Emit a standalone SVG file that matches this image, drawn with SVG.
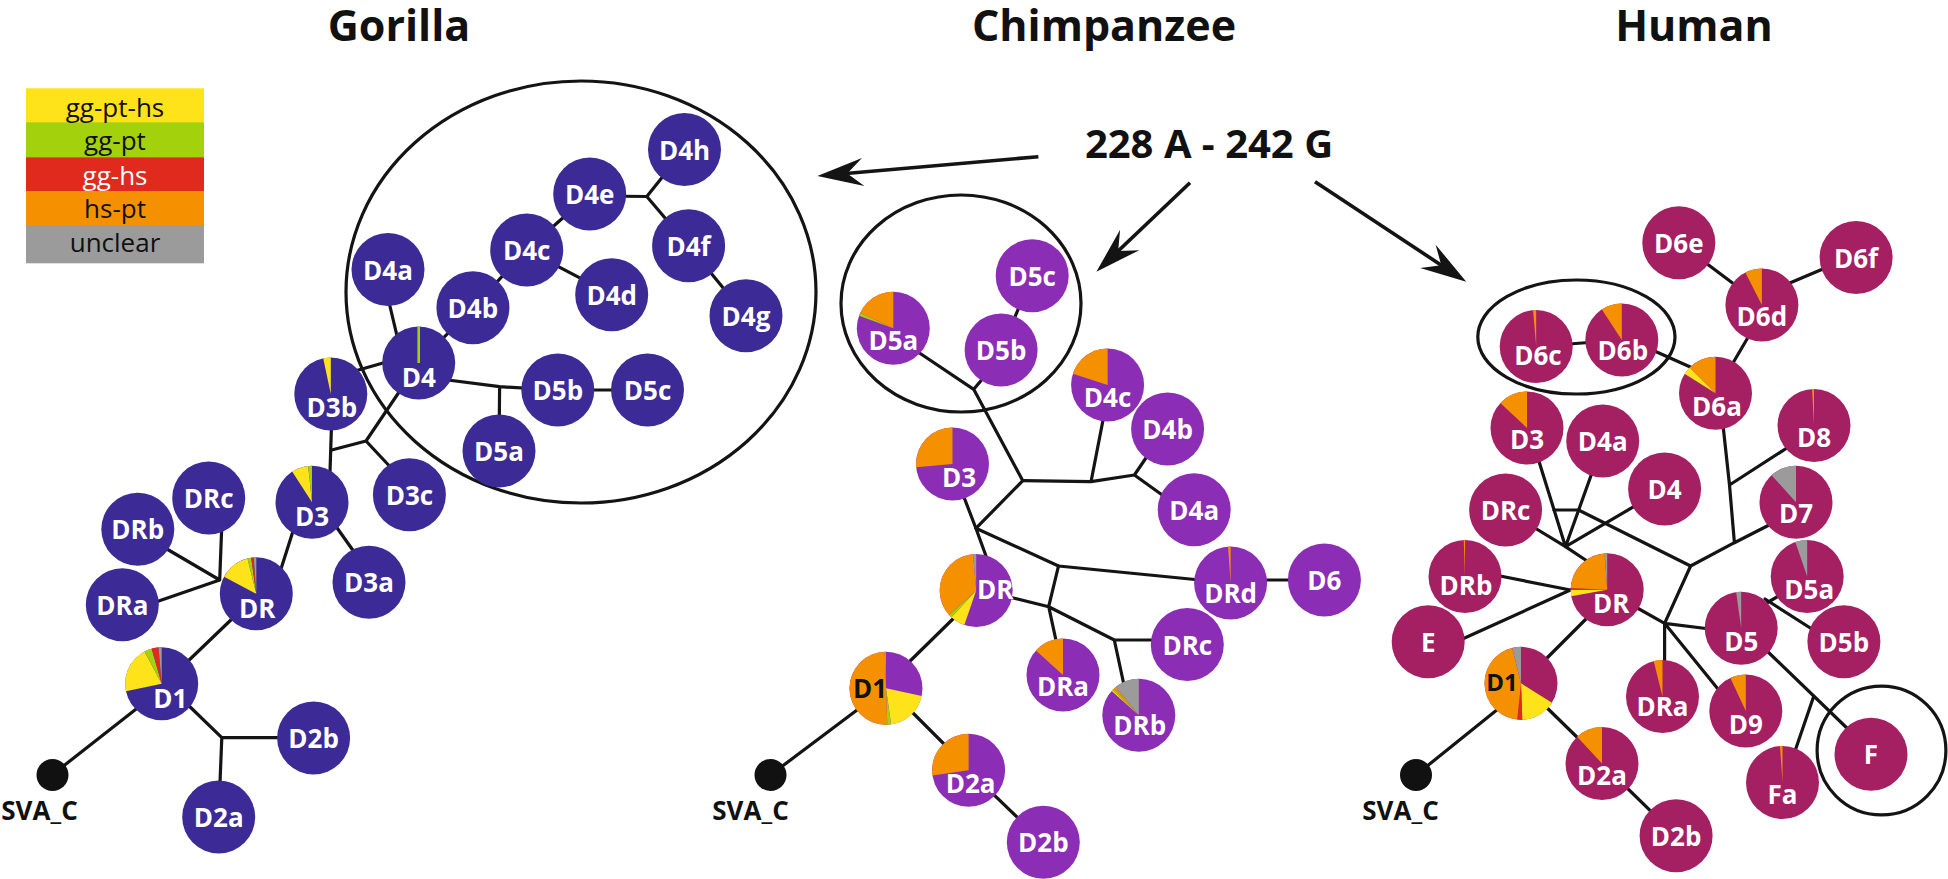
<svg xmlns="http://www.w3.org/2000/svg" width="1948" height="879" viewBox="0 0 1948 879">
<style>
.ln{fill:none;stroke:#141414;stroke-width:3.2;stroke-linecap:round;stroke-linejoin:round}
.ring{fill:none;stroke:#141414;stroke-width:3.2}
.arw{fill:none;stroke:#141414;stroke-width:3.6}
.ng{fill:#3c2a97}.nc{fill:#8c2db6}.nh{fill:#a51f63}
.Y{fill:#fee31a}.G{fill:#a3d10c}.R{fill:#e02a1e}.O{fill:#f59100}.U{fill:#9b9b9b}
text{font-family:"Open Sans","Liberation Sans",sans-serif}
.lb{font-weight:700;font-size:26px;fill:#fff;text-anchor:middle}
.lk{fill:#111}
.tt{font-weight:700;font-size:43px;fill:#111;text-anchor:middle}
.lg{font-size:26px;fill:#111;text-anchor:middle}
.sv{font-weight:700;font-size:26px;fill:#111;text-anchor:middle}
</style>
<defs>
<marker id="arr" markerUnits="userSpaceOnUse" markerWidth="60" markerHeight="40" viewBox="-50 -20 60 40" refX="-20" refY="0" orient="auto">
<path d="M0,0 L-46,-14 L-30,0 L-46,14 Z" fill="#141414"/>
</marker>
</defs>

<g id="titles">
<text class="tt" x="399" y="41">Gorilla</text>
<text class="tt" x="1104" y="41">Chimpanzee</text>
<text class="tt" x="1694" y="41">Human</text>
<text class="tt" x="1209" y="158" style="font-size:40px">228 A - 242 G</text>
</g>

<g id="legend">
<rect class="Y" x="26" y="88.3" width="178" height="34.5"/>
<rect class="G" x="26" y="122.3" width="178" height="35.5"/>
<rect class="R" x="26" y="157.3" width="178" height="34.2"/>
<rect class="O" x="26" y="191" width="178" height="34.5"/>
<rect class="U" x="26" y="225" width="178" height="38.3"/>
<text class="lg" x="115" y="116.7">gg-pt-hs</text>
<text class="lg" x="115" y="150">gg-pt</text>
<text class="lg" x="115" y="185" style="fill:#fff">gg-hs</text>
<text class="lg" x="115" y="217.7">hs-pt</text>
<text class="lg" x="115" y="251.7">unclear</text>
</g>

<g id="groupings">
<ellipse class="ring" cx="581" cy="292" rx="235" ry="211"/>
<ellipse class="ring" cx="961" cy="303.5" rx="120" ry="108.5"/>
<ellipse class="ring" cx="1576.4" cy="337" rx="98.6" ry="57"/>
<circle class="ring" cx="1881.5" cy="750.5" r="64.4"/>
</g>

<g id="arrows">
<line class="arw" x1="1038.4" y1="156.7" x2="837.3" y2="174.3" marker-end="url(#arr)"/>
<line class="arw" x1="1190" y1="182.7" x2="1110.9" y2="257.9" marker-end="url(#arr)"/>
<line class="arw" x1="1315" y1="181.7" x2="1449.6" y2="270.7" marker-end="url(#arr)"/>
</g>

<g id="connectors" class="ln">
<path d="M600,196 L646.8,196.5 M646.8,196.5 L684.5,149.5 M646.8,196.5 L688.6,245.8 L746,315.8"/>
<path d="M589.7,194 L526.7,250 L611.7,294.7 M526.7,250 L472.9,307.8 L418.7,363"/>
<path d="M388.5,300 L397.5,338"/>
<path d="M440,379 L499.6,386.7 L557.8,390 L647.5,390 M499.6,386.7 L499.3,420"/>
<path d="M355,371 L390,361"/>
<path d="M418.7,363 L366,441 L331.7,450 M366,441 L395,472"/>
<path d="M331.5,425 L330,472"/>
<path d="M335,525 L357,556"/>
<path d="M294,528 L280,572"/>
<path d="M219.7,580 L221.8,525 M219.7,580 L160,545 M219.7,580 L150,604"/>
<path d="M235,616 L185,664"/>
<path d="M140,706 L52,775"/>
<path d="M185,702 L221.8,737.7 L290,737.7 M221.8,737.7 L219.7,790"/>

<path d="M1032.2,275.8 L1001.1,350"/>
<path d="M915,350 L973.7,389.3 L985,376 M973.7,389.3 L1022.8,480.7 L975.9,528.3"/>
<path d="M1022.8,480.7 L1091,481.7 L1104,415 M1091,481.7 L1134.4,475 L1150,452 M1134.4,475 L1165,497"/>
<path d="M962,492 L975.9,528.3 L986,556 M975.9,528.3 L1058.5,566 L1200,580"/>
<path d="M1230.6,580 L1324.4,580"/>
<path d="M1058.5,566 L1048.7,606.7 M1005,596 L1048.7,606.7 L1114.3,640 L1160,640 M1048.7,606.7 L1057,645 M1114.3,640 L1124,685"/>
<path d="M905,666 L958,614"/>
<path d="M886,688.3 L770.5,775"/>
<path d="M905,705 L950,750"/>
<path d="M968.6,770.3 L1043.3,842.3"/>

<path d="M1678.8,242.7 L1761.9,305 M1785,285 L1830,266"/>
<path d="M1536.2,346.5 L1621.8,340 M1650,349 L1697,370 M1750,334 L1730,368"/>
<path d="M1723,425 L1729.5,485 L1734.4,542.7 M1729.5,485 L1790,446 M1734.4,542.7 L1775,522"/>
<path d="M1734.4,542.7 L1690.6,566 L1578.5,510 L1554,510"/>
<path d="M1537,455 L1565.5,546.7 L1593,470 M1530,525 L1565.5,546.7 L1640,503 M1565.5,546.7 L1590,563"/>
<path d="M1570.4,590 L1495,575 M1570.4,590 L1458,641"/>
<path d="M1690.6,566 L1664.6,623.3 L1632,605 M1664.6,623.3 L1710,629 M1664.6,623.3 L1664.6,665 M1664.6,623.3 L1722,694"/>
<path d="M1765,604 L1782,594 M1765,599 L1815,631 M1765,649 L1850,731 M1813.4,697.3 L1794,754"/>
<path d="M1540,665 L1590,615 M1503,705 L1416,775 M1540,701 L1584,744 M1602,763.5 L1676.1,835.8"/>
</g>

<g id="gorilla">
<g id="g-D4h" transform="translate(684.5,149.5)"><circle class="ng" r="36.5"/><text class="lb" y="10">D4h</text></g>
<g id="g-D4e" transform="translate(589.7,194)"><circle class="ng" r="36.5"/><text class="lb" y="10">D4e</text></g>
<g id="g-D4f" transform="translate(688.6,245.8)"><circle class="ng" r="36.5"/><text class="lb" y="10">D4f</text></g>
<g id="g-D4g" transform="translate(746,315.8)"><circle class="ng" r="36.5"/><text class="lb" y="10">D4g</text></g>
<g id="g-D4c" transform="translate(526.7,250)"><circle class="ng" r="36.5"/><text class="lb" y="10">D4c</text></g>
<g id="g-D4d" transform="translate(611.7,294.7)"><circle class="ng" r="36.5"/><text class="lb" y="10">D4d</text></g>
<g id="g-D4a" transform="translate(388,269.5)"><circle class="ng" r="36.5"/><text class="lb" y="10">D4a</text></g>
<g id="g-D4b" transform="translate(472.9,307.8)"><circle class="ng" r="36.5"/><text class="lb" y="10">D4b</text></g>
<g id="g-D4" transform="translate(418.7,363)"><circle class="ng" r="36.5"/><rect class="G" x="-1.3" y="-36.4" width="2.6" height="36.4"/><text class="lb" y="24">D4</text></g>
<g id="g-D3b" transform="translate(330.8,394)"><circle class="ng" r="36.5"/><path class="Y" d="M0,0L-7.59,-35.7A36.5,36.5 0 0 1 0,-36.5Z"/><text class="lb" x="1" y="23">D3b</text></g>
<g id="g-D5b" transform="translate(557.8,390)"><circle class="ng" r="36.5"/><text class="lb" y="10">D5b</text></g>
<g id="g-D5c" transform="translate(647.5,390)"><circle class="ng" r="36.5"/><text class="lb" y="10">D5c</text></g>
<g id="g-D5a" transform="translate(499,451)"><circle class="ng" r="36.5"/><text class="lb" y="10">D5a</text></g>
<g id="g-D3c" transform="translate(409.4,494.7)"><circle class="ng" r="36.5"/><text class="lb" y="10">D3c</text></g>
<g id="g-D3" transform="translate(312,502.2)"><circle class="ng" r="36.5"/><path class="Y" d="M0,0L-19.88,-30.61A36.5,36.5 0 0 1 -3.81,-36.3Z"/><path class="G" d="M0,0L-3.81,-36.3A36.5,36.5 0 0 1 0,-36.5Z"/><text class="lb" y="24">D3</text></g>
<g id="g-D3a" transform="translate(369,582.2)"><circle class="ng" r="36.5"/><text class="lb" y="10">D3a</text></g>
<g id="g-DRc" transform="translate(208.7,498)"><circle class="ng" r="36.5"/><text class="lb" y="10">DRc</text></g>
<g id="g-DRb" transform="translate(137.8,529.2)"><circle class="ng" r="36.5"/><text class="lb" y="10">DRb</text></g>
<g id="g-DRa" transform="translate(122.3,604.8)"><circle class="ng" r="36.5"/><text class="lb" y="10">DRa</text></g>
<g id="g-DR" transform="translate(256.3,593.8)"><circle class="ng" r="36.5"/><path class="Y" d="M0,0L-32.23,-17.14A36.5,36.5 0 0 1 -8.83,-35.42Z"/><path class="G" d="M0,0L-8.83,-35.42A36.5,36.5 0 0 1 -5.08,-36.15Z"/><path class="R" d="M0,0L-5.08,-36.15A36.5,36.5 0 0 1 -2.55,-36.41Z"/><path class="U" d="M0,0L-2.55,-36.41A36.5,36.5 0 0 1 0,-36.5Z"/><text class="lb" x="1" y="24">DR</text></g>
<g id="g-D1" transform="translate(161.7,683.7)"><circle class="ng" r="36.5"/><path class="Y" d="M0,0L-35.7,7.59A36.5,36.5 0 0 1 -17.14,-32.23Z"/><path class="G" d="M0,0L-17.14,-32.23A36.5,36.5 0 0 1 -10.06,-35.09Z"/><path class="R" d="M0,0L-10.06,-35.09A36.5,36.5 0 0 1 -3.18,-36.36Z"/><path class="U" d="M0,0L-3.18,-36.36A36.5,36.5 0 0 1 0,-36.5Z"/><text class="lb" x="8.6" y="24.5">D1</text></g>
<g id="g-D2b" transform="translate(313.6,738)"><circle class="ng" r="36.5"/><text class="lb" y="10">D2b</text></g>
<g id="g-D2a" transform="translate(218.7,817)"><circle class="ng" r="36.5"/><text class="lb" y="10">D2a</text></g>
<g id="g-SVA_C"><circle cx="52.5" cy="775" r="16" fill="#111"/><text class="sv" x="39.5" y="820">SVA_C</text></g>
</g>

<g id="chimpanzee">
<g id="c-D5c" transform="translate(1032.2,275.8)"><circle class="nc" r="36.5"/><text class="lb" y="10">D5c</text></g>
<g id="c-D5a" transform="translate(893.3,328.3)"><circle class="nc" r="36.5"/><path class="G" d="M0,0L-34.3,-12.48A36.5,36.5 0 0 1 -33.08,-15.42Z"/><path class="O" d="M0,0L-33.08,-15.42A36.5,36.5 0 0 1 0,-36.5Z"/><text class="lb" y="22">D5a</text></g>
<g id="c-D5b" transform="translate(1001.1,350)"><circle class="nc" r="36.5"/><text class="lb" y="10">D5b</text></g>
<g id="c-D4c" transform="translate(1107.6,385)"><circle class="nc" r="36.5"/><path class="O" d="M0,0L-34.72,-11.28A36.5,36.5 0 0 1 0,-36.5Z"/><text class="lb" y="22">D4c</text></g>
<g id="c-D4b" transform="translate(1167.6,429)"><circle class="nc" r="36.5"/><text class="lb" y="10">D4b</text></g>
<g id="c-D3" transform="translate(952.5,464)"><circle class="nc" r="36.5"/><path class="O" d="M0,0L-36.36,3.18A36.5,36.5 0 0 1 0,-36.5Z"/><text class="lb" x="6.5" y="23">D3</text></g>
<g id="c-D4a" transform="translate(1194.2,509.7)"><circle class="nc" r="36.5"/><text class="lb" y="10">D4a</text></g>
<g id="c-DR" transform="translate(976.2,590.5)"><circle class="nc" r="36.5"/><path class="Y" d="M0,0L-11.88,34.51A36.5,36.5 0 0 1 -24.89,26.7Z"/><path class="G" d="M0,0L-24.89,26.7A36.5,36.5 0 0 1 -27.12,24.42Z"/><path class="O" d="M0,0L-27.12,24.42A36.5,36.5 0 0 1 -3.18,-36.36Z"/><path class="U" d="M0,0L-3.18,-36.36A36.5,36.5 0 0 1 0,-36.5Z"/><text class="lb" x="19" y="8.5">DR</text></g>
<g id="c-DRd" transform="translate(1230.6,583)"><circle class="nc" r="36.5"/><path class="O" d="M0,0L-2.55,-36.41A36.5,36.5 0 0 1 0,-36.5Z"/><text class="lb" y="20">DRd</text></g>
<g id="c-D6" transform="translate(1324.4,580)"><circle class="nc" r="36.5"/><text class="lb" y="10">D6</text></g>
<g id="c-DRa" transform="translate(1063,675)"><circle class="nc" r="36.5"/><path class="O" d="M0,0L-27.12,-24.42A36.5,36.5 0 0 1 0,-36.5Z"/><text class="lb" y="21">DRa</text></g>
<g id="c-DRc" transform="translate(1187.3,644.5)"><circle class="nc" r="36.5"/><text class="lb" y="10">DRc</text></g>
<g id="c-DRb" transform="translate(1138.8,715.3)"><circle class="nc" r="36.5"/><path class="Y" d="M0,0L-27.12,-24.42A36.5,36.5 0 0 1 -26.25,-25.36Z"/><path class="G" d="M0,0L-26.25,-25.36A36.5,36.5 0 0 1 -24.89,-26.7Z"/><path class="O" d="M0,0L-24.89,-26.7A36.5,36.5 0 0 1 -22.97,-28.36Z"/><path class="U" d="M0,0L-22.97,-28.36A36.5,36.5 0 0 1 0,-36.5Z"/><text class="lb" x="1" y="20">DRb</text></g>
<g id="c-D1" transform="translate(886,688.3)"><circle class="nc" r="36.5"/><path class="Y" d="M0,0L35.7,7.59A36.5,36.5 0 0 1 5.08,36.15Z"/><path class="G" d="M0,0L5.08,36.15A36.5,36.5 0 0 1 1.27,36.48Z"/><path class="O" d="M0,0L1.27,36.48A36.5,36.5 0 0 1 -1.27,-36.48Z"/><path class="U" d="M0,0L-1.27,-36.48A36.5,36.5 0 0 1 0,-36.5Z"/><text class="lb lk" x="-16" y="9.7">D1</text></g>
<g id="c-D2a" transform="translate(968.6,770.3)"><circle class="nc" r="36.5"/><path class="O" d="M0,0L-36.15,5.08A36.5,36.5 0 0 1 0,-36.5Z"/><text class="lb" x="2" y="23">D2a</text></g>
<g id="c-D2b" transform="translate(1043.3,842.3)"><circle class="nc" r="36.5"/><text class="lb" y="10">D2b</text></g>
<g id="c-SVA_C"><circle cx="770.5" cy="775" r="16" fill="#111"/><text class="sv" x="750.5" y="820">SVA_C</text></g>
</g>

<g id="human">
<g id="h-D6e" transform="translate(1678.8,242.7)"><circle class="nh" r="36.5"/><text class="lb" y="10">D6e</text></g>
<g id="h-D6f" transform="translate(1856.1,257.5)"><circle class="nh" r="36.5"/><text class="lb" y="10">D6f</text></g>
<g id="h-D6d" transform="translate(1761.9,305)"><circle class="nh" r="36.5"/><path class="O" d="M0,0L-16.57,-32.52A36.5,36.5 0 0 1 0,-36.5Z"/><text class="lb" y="21">D6d</text></g>
<g id="h-D6c" transform="translate(1536.2,346.5)"><circle class="nh" r="36.5"/><path class="O" d="M0,0L-3.18,-36.36A36.5,36.5 0 0 1 0,-36.5Z"/><text class="lb" x="1.7" y="18.5">D6c</text></g>
<g id="h-D6b" transform="translate(1621.8,340)"><circle class="nh" r="36.5"/><path class="O" d="M0,0L-19.88,-30.61A36.5,36.5 0 0 1 0,-36.5Z"/><text class="lb" x="1" y="20">D6b</text></g>
<g id="h-D6a" transform="translate(1715.5,393.2)"><circle class="nh" r="36.5"/><path class="Y" d="M0,0L-30.95,-19.34A36.5,36.5 0 0 1 -25.81,-25.81Z"/><path class="O" d="M0,0L-25.81,-25.81A36.5,36.5 0 0 1 0,-36.5Z"/><text class="lb" x="1.5" y="23">D6a</text></g>
<g id="h-D3" transform="translate(1527,428)"><circle class="nh" r="36.5"/><path class="O" d="M0,0L-26.7,-24.89A36.5,36.5 0 0 1 0,-36.5Z"/><text class="lb" y="21">D3</text></g>
<g id="h-D4a" transform="translate(1602.7,441)"><circle class="nh" r="36.5"/><text class="lb" y="10">D4a</text></g>
<g id="h-D8" transform="translate(1814,425.5)"><circle class="nh" r="36.5"/><path class="O" d="M0,0L-1.91,-36.45A36.5,36.5 0 0 1 0,-36.5Z"/><text class="lb" y="21">D8</text></g>
<g id="h-D4" transform="translate(1664.6,489)"><circle class="nh" r="36.5"/><text class="lb" y="10">D4</text></g>
<g id="h-D7" transform="translate(1796,502.3)"><circle class="nh" r="36.5"/><path class="U" d="M0,0L-24.42,-27.12A36.5,36.5 0 0 1 0,-36.5Z"/><text class="lb" y="21">D7</text></g>
<g id="h-DRc" transform="translate(1505.6,510)"><circle class="nh" r="36.5"/><text class="lb" y="10">DRc</text></g>
<g id="h-DRb" transform="translate(1465,576.5)"><circle class="nh" r="36.5"/><path class="O" d="M0,0L-1.27,-36.48A36.5,36.5 0 0 1 0,-36.5Z"/><text class="lb" x="1" y="18.5">DRb</text></g>
<g id="h-DR" transform="translate(1607.2,589.8)"><circle class="nh" r="36.5"/><path class="Y" d="M0,0L-35.95,6.34A36.5,36.5 0 0 1 -36.5,0Z"/><path class="R" d="M0,0L-36.5,0A36.5,36.5 0 0 1 -36.45,-1.91Z"/><path class="O" d="M0,0L-36.45,-1.91A36.5,36.5 0 0 1 -2.55,-36.41Z"/><path class="U" d="M0,0L-2.55,-36.41A36.5,36.5 0 0 1 0,-36.5Z"/><text class="lb" x="4" y="23">DR</text></g>
<g id="h-D5a" transform="translate(1807.2,576.5)"><circle class="nh" r="36.5"/><path class="U" d="M0,0L-11.88,-34.51A36.5,36.5 0 0 1 0,-36.5Z"/><text class="lb" x="2" y="22">D5a</text></g>
<g id="h-E" transform="translate(1428.2,641.7)"><circle class="nh" r="36.5"/><text class="lb" y="10">E</text></g>
<g id="h-D5" transform="translate(1741.2,628.2)"><circle class="nh" r="36.5"/><path class="U" d="M0,0L-5.08,-36.15A36.5,36.5 0 0 1 0,-36.5Z"/><text class="lb" y="22.5">D5</text></g>
<g id="h-D5b" transform="translate(1843.9,641.7)"><circle class="nh" r="36.5"/><text class="lb" y="10">D5b</text></g>
<g id="h-DRa" transform="translate(1662.5,696.5)"><circle class="nh" r="36.5"/><path class="O" d="M0,0L-8.83,-35.42A36.5,36.5 0 0 1 0,-36.5Z"/><text class="lb" y="19.5">DRa</text></g>
<g id="h-D9" transform="translate(1745.8,711)"><circle class="nh" r="36.5"/><path class="O" d="M0,0L-15.42,-33.08A36.5,36.5 0 0 1 0,-36.5Z"/><text class="lb" y="23">D9</text></g>
<g id="h-D1" transform="translate(1521,683.3)"><circle class="nh" r="36.5"/><path class="Y" d="M0,0L30.95,19.34A36.5,36.5 0 0 1 1.27,36.48Z"/><path class="R" d="M0,0L1.27,36.48A36.5,36.5 0 0 1 -3.81,36.3Z"/><path class="O" d="M0,0L-3.81,36.3A36.5,36.5 0 0 1 -8.83,-35.42Z"/><path class="U" d="M0,0L-8.83,-35.42A36.5,36.5 0 0 1 0,-36.5Z"/><text class="lb lk" x="-19" y="8" style="font-size:24px">D1</text></g>
<g id="h-D2a" transform="translate(1602,763.5)"><circle class="nh" r="36.5"/><path class="O" d="M0,0L-24.89,-26.7A36.5,36.5 0 0 1 0,-36.5Z"/><text class="lb" y="21">D2a</text></g>
<g id="h-D2b" transform="translate(1676.1,835.8)"><circle class="nh" r="36.5"/><text class="lb" y="10">D2b</text></g>
<g id="h-Fa" transform="translate(1782.5,782.5)"><circle class="nh" r="36.5"/><path class="O" d="M0,0L-2.55,-36.41A36.5,36.5 0 0 1 0,-36.5Z"/><text class="lb" y="21.5">Fa</text></g>
<g id="h-F" transform="translate(1871,754.2)"><circle class="nh" r="36.5"/><text class="lb" y="10">F</text></g>
<g id="h-SVA_C"><circle cx="1416" cy="775" r="16" fill="#111"/><text class="sv" x="1400.5" y="820">SVA_C</text></g>
</g>
</svg>
